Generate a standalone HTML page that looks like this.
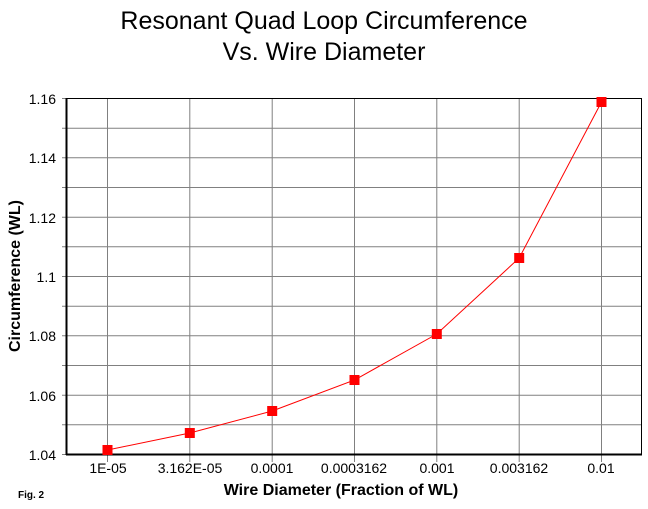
<!DOCTYPE html>
<html><head><meta charset="utf-8"><style>
body{margin:0;background:#fff;}
svg{display:block;font-family:"Liberation Sans",Arial,sans-serif;}
</style></head><body>
<svg width="648" height="509" xmlns="http://www.w3.org/2000/svg">
<rect width="648" height="509" fill="#fff"/>
<text x="324" y="29" font-size="25" text-anchor="middle">Resonant Quad Loop Circumference</text>
<text x="324" y="60" font-size="25" text-anchor="middle">Vs. Wire Diameter</text>
<g stroke="#808080" stroke-width="1">
<line x1="62" y1="98.5" x2="642" y2="98.5"/>
<line x1="62" y1="128.2" x2="642" y2="128.2"/>
<line x1="62" y1="157.8" x2="642" y2="157.8"/>
<line x1="62" y1="187.5" x2="642" y2="187.5"/>
<line x1="62" y1="217.2" x2="642" y2="217.2"/>
<line x1="62" y1="246.8" x2="642" y2="246.8"/>
<line x1="62" y1="276.5" x2="642" y2="276.5"/>
<line x1="62" y1="306.2" x2="642" y2="306.2"/>
<line x1="62" y1="335.8" x2="642" y2="335.8"/>
<line x1="62" y1="365.5" x2="642" y2="365.5"/>
<line x1="62" y1="395.2" x2="642" y2="395.2"/>
<line x1="62" y1="424.8" x2="642" y2="424.8"/>
<line x1="62" y1="454.5" x2="66" y2="454.5"/>
<line x1="107.5" y1="98" x2="107.5" y2="462"/>
<line x1="189.8" y1="98" x2="189.8" y2="462"/>
<line x1="272.2" y1="98" x2="272.2" y2="462"/>
<line x1="354.5" y1="98" x2="354.5" y2="462"/>
<line x1="436.8" y1="98" x2="436.8" y2="462"/>
<line x1="519.2" y1="98" x2="519.2" y2="462"/>
<line x1="601.5" y1="98" x2="601.5" y2="462"/>
</g>
<rect x="66.5" y="98.5" width="575" height="356" fill="none" stroke="#000" stroke-width="1"/>
<line x1="66.5" y1="98" x2="66.5" y2="455" stroke="#000" stroke-width="2"/>
<line x1="66" y1="454.5" x2="642" y2="454.5" stroke="#000" stroke-width="2"/>
<g font-size="14" text-anchor="end">
<text x="56" y="104">1.16</text><text x="56" y="163">1.14</text><text x="56" y="223">1.12</text>
<text x="56" y="282">1.1</text><text x="56" y="341">1.08</text><text x="56" y="401">1.06</text><text x="56" y="460">1.04</text>
</g>
<g font-size="14" text-anchor="middle">
<text x="108" y="473">1E-05</text><text x="190" y="473">3.162E-05</text><text x="272" y="473">0.0001</text>
<text x="354" y="473">0.0003162</text><text x="437" y="473">0.001</text><text x="519" y="473">0.003162</text><text x="601" y="473">0.01</text>
</g>
<text x="341" y="495" font-size="16" font-weight="bold" text-anchor="middle">Wire Diameter (Fraction of WL)</text>
<text transform="translate(20,276) rotate(-90)" font-size="16" font-weight="bold" text-anchor="middle">Circumference (WL)</text>
<text x="18" y="498" font-size="10" font-weight="bold">Fig. 2</text>
<polyline fill="none" stroke="#f00" stroke-width="1" points="107.5,450 189.8,433 272.2,411 354.5,380 436.8,334 519.2,258 601.5,102"/>
<g fill="#f00">
<rect x="102.5" y="445" width="10" height="10"/><rect x="184.8" y="428" width="10" height="10"/>
<rect x="267.2" y="406" width="10" height="10"/><rect x="349.5" y="375" width="10" height="10"/>
<rect x="431.8" y="329" width="10" height="10"/><rect x="514.2" y="253" width="10" height="10"/>
<rect x="596.5" y="97" width="10" height="10"/>
</g>
</svg>
</body></html>
